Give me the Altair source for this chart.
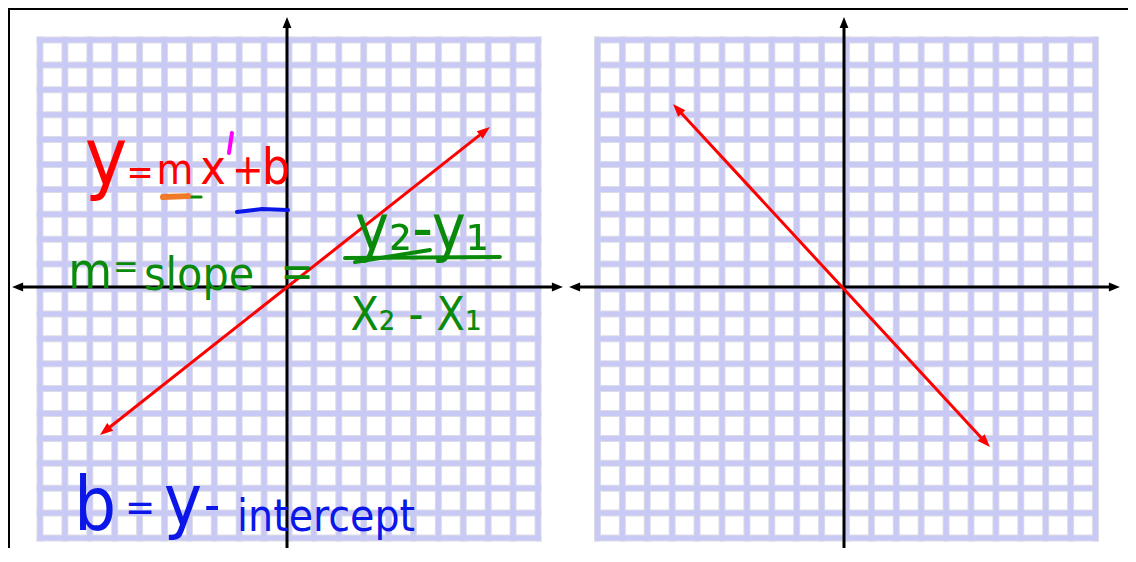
import altair as alt
import pandas as pd
import numpy as np

# ---------------- data (grid units from each grid's centre) ----------------
U = 24.9                      # pixels per grid cell
grid_ticks = list(range(-10, 11))
grid_lo, grid_hi = -10, 10

# black axes: position of the axis line and its arrow tips
left_axis_xpos, left_axis_ypos = -0.08, 0.08
right_axis_xpos, right_axis_ypos = -0.10, 0.08
left_axis_x = [-11.12, 11.00]
right_axis_x = [-11.14, 10.98]
axis_y = [-10.88, 10.92]

# red lines (arrow tip to arrow tip)
left_line_x = [-7.59, 8.07]
left_line_y = [-5.86, 6.51]
right_line_x = [-6.97, 5.76]
right_line_y = [7.43, -6.35]

# handwritten notes (left grid)
red_text = ["y", "=", "m", "x", "+", "b"]
red_x = [-7.35, -5.98, -4.58, -3.05, -1.65, -0.52]
red_y = [4.22, 4.22, 4.22, 4.22, 4.22, 4.22]

green_text = ["m", "=", "slope", "=", "y₂-y₁", "X₂ - X₁"]
green_x = [-7.99, -6.55, -3.61, 0.32, 5.34, 5.10]
green_y = [0.04, 0.44, -0.04, 0.08, 1.57, -1.65]

blue_text = ["b", "=", "y", "-", "intercept"]
blue_x = [-7.79, -5.98, -4.26, -3.09, 1.49]
blue_y = [-9.68, -9.30, -9.48, -9.36, -9.72]

prime_x, prime_y = [-2.41, -2.29], [5.46, 6.27]
orange_x, orange_y = [-5.06, -4.06], [3.69, 3.73]
green_dash_x, green_dash_y = [-4.14, -3.53], [3.69, 3.69]
blue_under_x, blue_under_y = [-2.09, -1.08, -0.04], [3.09, 3.21, 3.17]
bar1_x, bar1_y = [2.25, 8.47], [1.24, 1.29]
bar2_x, bar2_y = [2.65, 5.66], [1.08, 1.57]

# ---------------- layout & styling ----------------
RED = "#ff0000"
GREEN = "#0a8a0a"
BLUE = "#0b16e8"
ORANGE = "#f07a2a"
MAGENTA = "#ff00ff"
LAVENDER = "#c9c9f5"
EDGE = "#dcdce6"
FONT = "DejaVu Sans Condensed, Liberation Sans, sans-serif"

W, HC = 1120, 540            # whole drawing (page margin 8px, must not overflow the window)
CX, CY = 281, 281            # left grid centre inside the drawing, px
RIGHT_SHIFT = (846.5 - 289) / U   # right grid centre, in grid units
xdom = [-CX / U, (W - CX) / U]
ydom = [-(HC - CY) / U, CY / U]
XS = alt.Scale(domain=xdom, nice=False, zero=False)
YS = alt.Scale(domain=ydom, nice=False, zero=False)

ARROW_BLACK = "M0,0L-0.8,2L0.8,2Z"
ARROW_RED = "M0,0L-0.75,2L0.75,2Z"


def X(f):
    return alt.X(f, type="quantitative", scale=XS, axis=None)


def Y(f):
    return alt.Y(f, type="quantitative", scale=YS, axis=None)


def shorten(x0, y0, x1, y1, d):
    L = np.hypot(x1 - x0, y1 - y0)
    return x1 - (x1 - x0) / L * d, y1 - (y1 - y0) / L * d


def angle(dx, dy):
    return float(np.degrees(np.arctan2(dx, dy)) % 360)


layers = []

# ---- grids ----
rows = []
for off in [0.0, RIGHT_SHIFT]:
    for v in grid_ticks:
        rows.append({"v": v + off, "lo": grid_lo + off, "hi": grid_hi + off, "vy": v,
                     "ylo": grid_lo, "yhi": grid_hi})
gdf = pd.DataFrame(rows)
for col, w in [(EDGE, 7), (LAVENDER, 5)]:
    layers.append(alt.Chart(gdf).mark_rule(color=col, strokeWidth=w, strokeCap="square").encode(
        x=X("v"), y=Y("ylo"), y2="yhi"))
    layers.append(alt.Chart(gdf).mark_rule(color=col, strokeWidth=w, strokeCap="square").encode(
        y=Y("vy"), x=X("lo"), x2="hi"))

# ---- screenshot frame (top and left) ----
fdf = pd.DataFrame({"x": [xdom[0], xdom[0]], "x2": [xdom[1], xdom[0]],
                    "y": [ydom[1], ydom[0]], "y2": [ydom[1], ydom[1]]})
layers.append(alt.Chart(fdf).mark_rule(color="black", strokeWidth=4).encode(
    x=X("x"), x2="x2", y=Y("y"), y2="y2"))

# ---- black axes with arrowheads ----
s = 0.3
ax_rows, head_rows = [], []
for off, axx, xpos, ypos in [(0.0, left_axis_x, left_axis_xpos, left_axis_ypos),
                             (RIGHT_SHIFT, right_axis_x, right_axis_xpos, right_axis_ypos)]:
    ax_rows.append({"x": axx[0] + s + off, "x2": axx[1] - s + off, "y": ypos, "y2": ypos})
    ax_rows.append({"x": xpos + off, "x2": xpos + off, "y": axis_y[0] + s, "y2": axis_y[1] - s})
    head_rows += [{"x": axx[1] + off, "y": ypos, "a": 90},
                  {"x": axx[0] + off, "y": ypos, "a": 270},
                  {"x": xpos + off, "y": axis_y[1], "a": 0},
                  {"x": xpos + off, "y": axis_y[0], "a": 180}]
layers.append(alt.Chart(pd.DataFrame(ax_rows)).mark_rule(color="black", strokeWidth=3).encode(
    x=X("x"), x2="x2", y=Y("y"), y2="y2"))
layers.append(alt.Chart(pd.DataFrame(head_rows)).mark_point(
    shape=ARROW_BLACK, filled=True, size=121, opacity=1, color="black", strokeWidth=0).encode(
    x=X("x"), y=Y("y"), angle=alt.Angle("a:Q", scale=None)))

# ---- red lines with arrowheads ----
line_rows, red_heads = [], []
for k, (off, lx, ly) in enumerate([(0.0, left_line_x, left_line_y),
                                   (RIGHT_SHIFT, right_line_x, right_line_y)]):
    x0, y0, x1, y1 = lx[0], ly[0], lx[1], ly[1]
    e1 = shorten(x0, y0, x1, y1, 0.35)
    e0 = shorten(x1, y1, x0, y0, 0.35)
    line_rows += [{"x": e0[0] + off, "y": e0[1], "k": k, "o": 0},
                  {"x": e1[0] + off, "y": e1[1], "k": k, "o": 1}]
    red_heads += [{"x": x0 + off, "y": y0, "a": angle(x0 - x1, y0 - y1)},
                  {"x": x1 + off, "y": y1, "a": angle(x1 - x0, y1 - y0)}]
layers.append(alt.Chart(pd.DataFrame(line_rows)).mark_line(color=RED, strokeWidth=3).encode(
    x=X("x"), y=Y("y"), detail="k:N", order="o:Q"))
layers.append(alt.Chart(pd.DataFrame(red_heads)).mark_point(
    shape=ARROW_RED, filled=True, size=169, opacity=1, color=RED, strokeWidth=0).encode(
    x=X("x"), y=Y("y"), angle=alt.Angle("a:Q", scale=None)))


# ---- handwritten notes ----
def stroke(xv, yv, color, w):
    d = pd.DataFrame({"x": xv, "y": yv, "o": list(range(len(xv)))})
    layers.append(alt.Chart(d).mark_line(color=color, strokeWidth=w, strokeCap="round").encode(
        x=X("x"), y=Y("y"), order="o:Q"))


def text(t, x, y, size, color):
    d = pd.DataFrame({"t": [t], "x": [x], "y": [y]})
    layers.append(alt.Chart(d).mark_text(font=FONT, fontSize=size, color=color, align="center",
                                         baseline="alphabetic").encode(x=X("x"), y=Y("y"), text="t:N"))


stroke(green_dash_x, green_dash_y, GREEN, 3)
stroke(orange_x, orange_y, ORANGE, 6)
stroke(blue_under_x, blue_under_y, BLUE, 4)
stroke(prime_x, prime_y, MAGENTA, 4)
stroke(bar1_x, bar1_y, GREEN, 4)
stroke(bar2_x, bar2_y, GREEN, 4)

for t, x, y, sz in zip(red_text, red_x, red_y, [80, 36, 42, 48, 42, 50]):
    text(t, x, y, sz, RED)
for t, x, y, sz in zip(green_text, green_x, green_y, [50, 34, 46, 44, 64, 46]):
    text(t, x, y, sz, GREEN)
for t, x, y, sz in zip(blue_text, blue_x, blue_y, [74, 40, 72, 50, 44]):
    text(t, x, y, sz, BLUE)

chart = alt.layer(*layers).properties(
    width=W, height=HC, padding=0, autosize=alt.AutoSizeParams(type="none")
).configure_view(stroke=None)

chart.save("out.html", embed_options={"renderer": "svg", "actions": False})
